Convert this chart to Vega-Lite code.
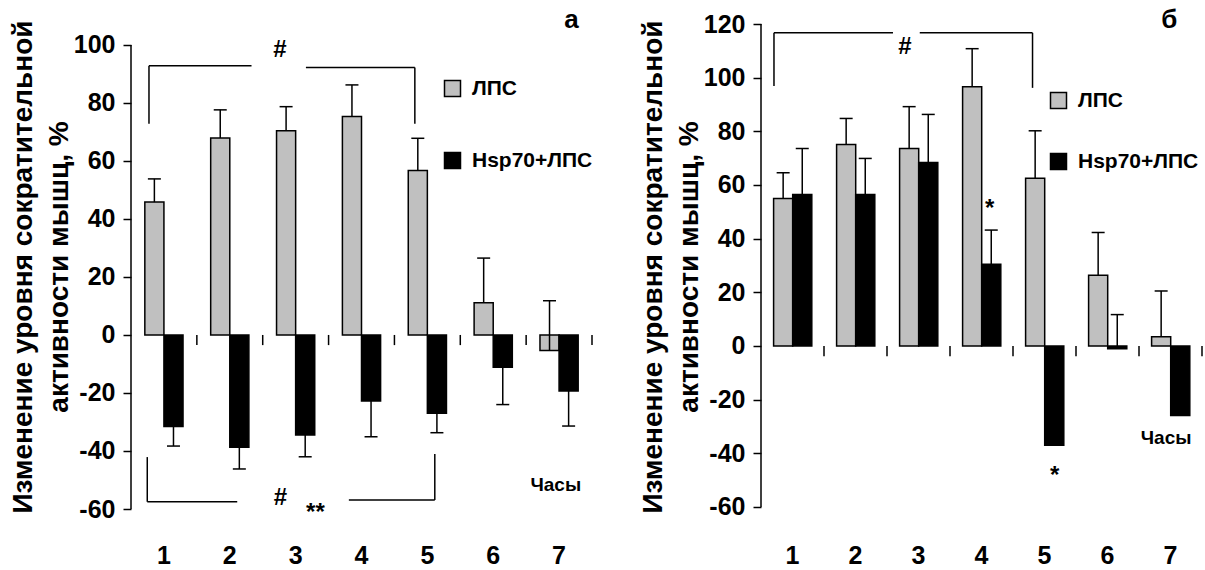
{
  "$schema": "https://vega.github.io/schema/vega-lite/v6.json",
  "padding": {"left": 9, "top": 6, "right": 0, "bottom": 0},
  "spacing": 46,
  "config": {
    "view": {"stroke": null},
    "axis": {"labelFont": "Liberation Sans, Arial, sans-serif", "labelFontWeight": "bold", "labelFontSize": 25, "labelColor": "black", "tickColor": "black", "domainColor": "black", "titleColor": "black"},
    "legend": {"labelFont": "Liberation Sans, Arial, sans-serif", "labelFontWeight": "bold", "labelFontSize": 21, "labelColor": "black", "symbolType": "square", "symbolSize": 256, "symbolStrokeColor": "black", "symbolStrokeWidth": 1.5, "labelOffset": 9, "padding": 0, "title": null},
    "text": {"font": "Liberation Sans, Arial, sans-serif", "fontWeight": "bold", "color": "black"}
  },
  "datasets": {
    "bars": [
      {"panel": "a", "hour": 1, "group": "ЛПС", "value": 45.8, "err": 53.8},
      {"panel": "a", "hour": 2, "group": "ЛПС", "value": 67.9, "err": 77.6},
      {"panel": "a", "hour": 3, "group": "ЛПС", "value": 70.4, "err": 78.7},
      {"panel": "a", "hour": 4, "group": "ЛПС", "value": 75.3, "err": 86.2},
      {"panel": "a", "hour": 5, "group": "ЛПС", "value": 56.7, "err": 67.8},
      {"panel": "a", "hour": 6, "group": "ЛПС", "value": 11.1, "err": 26.5},
      {"panel": "a", "hour": 7, "group": "ЛПС", "value": -5.4, "err": 11.8},
      {"panel": "a", "hour": 1, "group": "Hsp70+ЛПС", "value": -31.6, "err": -38.3},
      {"panel": "a", "hour": 2, "group": "Hsp70+ЛПС", "value": -38.7, "err": -46.2},
      {"panel": "a", "hour": 3, "group": "Hsp70+ЛПС", "value": -34.5, "err": -42.0},
      {"panel": "a", "hour": 4, "group": "Hsp70+ЛПС", "value": -22.8, "err": -35.1},
      {"panel": "a", "hour": 5, "group": "Hsp70+ЛПС", "value": -27.0, "err": -33.7},
      {"panel": "a", "hour": 6, "group": "Hsp70+ЛПС", "value": -11.1, "err": -24.0},
      {"panel": "a", "hour": 7, "group": "Hsp70+ЛПС", "value": -19.3, "err": -31.4},
      {"panel": "b", "hour": 1, "group": "ЛПС", "value": 55.0, "err": 64.6},
      {"panel": "b", "hour": 2, "group": "ЛПС", "value": 75.1, "err": 84.8},
      {"panel": "b", "hour": 3, "group": "ЛПС", "value": 73.6, "err": 89.2},
      {"panel": "b", "hour": 4, "group": "ЛПС", "value": 96.6, "err": 110.8},
      {"panel": "b", "hour": 5, "group": "ЛПС", "value": 62.5, "err": 80.2},
      {"panel": "b", "hour": 6, "group": "ЛПС", "value": 26.4, "err": 42.3},
      {"panel": "b", "hour": 7, "group": "ЛПС", "value": 3.4, "err": 20.5},
      {"panel": "b", "hour": 1, "group": "Hsp70+ЛПС", "value": 56.5, "err": 73.6},
      {"panel": "b", "hour": 2, "group": "Hsp70+ЛПС", "value": 56.5, "err": 69.9},
      {"panel": "b", "hour": 3, "group": "Hsp70+ЛПС", "value": 68.4, "err": 86.3},
      {"panel": "b", "hour": 4, "group": "Hsp70+ЛПС", "value": 30.5, "err": 43.2},
      {"panel": "b", "hour": 5, "group": "Hsp70+ЛПС", "value": -37.0, "err": null},
      {"panel": "b", "hour": 6, "group": "Hsp70+ЛПС", "value": -1.0, "err": 11.7},
      {"panel": "b", "hour": 7, "group": "Hsp70+ЛПС", "value": -25.9, "err": null}
    ],
    "brackets": [
      {"panel": "a", "x": 0.773, "x2": 0.773, "y": 72.8, "y2": 92.8},
      {"panel": "a", "x": 0.773, "x2": 2.33, "y": 92.8, "y2": 92.8},
      {"panel": "a", "x": 3.156, "x2": 4.81, "y": 92.2, "y2": 92.2},
      {"panel": "a", "x": 4.81, "x2": 4.81, "y": 72.8, "y2": 92.2},
      {"panel": "a", "x": 0.747, "x2": 0.747, "y": -42.1, "y2": -57.5},
      {"panel": "a", "x": 0.747, "x2": 2.113, "y": -57.5, "y2": -57.5},
      {"panel": "a", "x": 3.808, "x2": 5.113, "y": -56.9, "y2": -56.9},
      {"panel": "a", "x": 5.113, "x2": 5.113, "y": -41.0, "y2": -56.9},
      {"panel": "b", "x": 0.706, "x2": 0.706, "y": 96.9, "y2": 116.7},
      {"panel": "b", "x": 0.706, "x2": 2.595, "y": 116.7, "y2": 116.7},
      {"panel": "b", "x": 3.02, "x2": 4.81, "y": 116.7, "y2": 116.7},
      {"panel": "b", "x": 4.81, "x2": 4.81, "y": 96.2, "y2": 116.7}
    ],
    "edges": [
      {"panel": "a", "b": 1.5}, {"panel": "a", "b": 2.5}, {"panel": "a", "b": 3.5}, {"panel": "a", "b": 4.5}, {"panel": "a", "b": 5.5}, {"panel": "a", "b": 6.5}, {"panel": "a", "b": 7.5},
      {"panel": "b", "b": 1.5}, {"panel": "b", "b": 2.5}, {"panel": "b", "b": 3.5}, {"panel": "b", "b": 4.5}, {"panel": "b", "b": 5.5}, {"panel": "b", "b": 6.5}, {"panel": "b", "b": 7.5}
    ],
    "yaxis": [
      {"panel": "a", "x": 0.5, "lo": -60, "hi": 100},
      {"panel": "b", "x": 0.5, "lo": -60, "hi": 120}
    ],
    "notes": [
      {"panel": "a", "kind": "mark", "x": 2.76, "y": 98.3, "label": "#"},
      {"panel": "a", "kind": "mark", "x": 2.77, "y": -56.2, "label": "#"},
      {"panel": "a", "kind": "mark", "x": 3.30, "y": -61.5, "label": "**"},
      {"panel": "a", "kind": "hours", "x": 6.95, "y": -51.7, "label": "Часы"},
      {"panel": "a", "kind": "letter", "x": 7.19, "y": 108.6, "label": "а"},
      {"panel": "b", "kind": "mark", "x": 2.786, "y": 111.5, "label": "#"},
      {"panel": "b", "kind": "mark", "x": 4.13, "y": 51.0, "label": "*"},
      {"panel": "b", "kind": "mark", "x": 5.16, "y": -48.5, "label": "*"},
      {"panel": "b", "kind": "hours", "x": 6.93, "y": -34.4, "label": "Часы"},
      {"panel": "b", "kind": "letter", "x": 6.98, "y": 121.5, "label": "б"}
    ]
  },
  "hconcat": [
    {
      "width": 461,
      "height": 485,
      "resolve": {"scale": {"x": "independent"}},
      "layer": [
        {
          "data": {"name": "bars"},
          "transform": [{"filter": "datum.panel == 'a'"}],
          "encoding": {
            "x": {"field": "hour", "type": "ordinal", "scale": {"paddingInner": 0.42, "paddingOuter": 0.21},
                  "axis": {"title": null, "domain": false, "ticks": false, "labelAngle": 0, "labelPadding": 34}},
            "xOffset": {"field": "group", "sort": ["ЛПС", "Hsp70+ЛПС"]}
          },
          "layer": [
            {
              "mark": {"type": "bar", "stroke": "black", "strokeWidth": 1.5},
              "encoding": {
                "y": {"field": "value", "type": "quantitative", "scale": {"domain": [-60, 107.2], "nice": false, "zero": false},
                      "axis": {"values": [-60, -40, -20, 0, 20, 40, 60, 80, 100], "labelExpr": "'' + datum.value", "domain": false, "grid": false, "tickSize": 8, "tickWidth": 1.5, "labelPadding": 8,
                               "title": ["Изменение уровня сократительной", "активности мышц, %"], "titleFont": "Liberation Sans, Arial, sans-serif", "titleFontSize": 28, "titleFontWeight": "bold", "titleLineHeight": 36, "titlePadding": 0}},
                "color": {"field": "group", "type": "nominal", "scale": {"domain": ["ЛПС", "Hsp70+ЛПС"], "range": ["#c0c0c0", "#000000"]},
                          "legend": {"orient": "none", "legendX": 311, "legendY": 54, "rowPadding": 49}}
              }
            },
            {
              "transform": [{"filter": "datum.err != null"}],
              "mark": {"type": "rule", "color": "black", "strokeWidth": 1.5},
              "encoding": {"y": {"field": "value", "type": "quantitative"}, "y2": {"field": "err"}}
            },
            {
              "transform": [{"filter": "datum.err != null"}],
              "mark": {"type": "tick", "color": "black", "thickness": 1.5, "size": 13, "opacity": 1},
              "encoding": {"y": {"field": "err", "type": "quantitative"}}
            },
            {
              "mark": {"type": "rule", "color": "black", "strokeWidth": 1.5},
              "encoding": {"y": {"datum": 0}}
            }
          ]
        },
        {
          "layer": [
            {
              "data": {"name": "yaxis"},
              "transform": [{"filter": "datum.panel == 'a'"}],
              "mark": {"type": "rule", "color": "black", "strokeWidth": 1.5},
              "encoding": {
                "x": {"field": "x", "type": "quantitative", "scale": {"domain": [0.5, 7.5], "nice": false, "zero": false}, "axis": null},
                "y": {"field": "lo", "type": "quantitative"}, "y2": {"field": "hi"}
              }
            },
            {
              "data": {"name": "edges"},
              "transform": [{"filter": "datum.panel == 'a'"}],
              "mark": {"type": "rule", "color": "black", "strokeWidth": 1.5},
              "encoding": {
                "x": {"field": "b", "type": "quantitative", "axis": null},
                "y": {"datum": 0}, "y2": {"datum": -3.5}
              }
            },
            {
              "data": {"name": "brackets"},
              "transform": [{"filter": "datum.panel == 'a'"}],
              "mark": {"type": "rule", "color": "black", "strokeWidth": 1.5},
              "encoding": {
                "x": {"field": "x", "type": "quantitative", "axis": null}, "x2": {"field": "x2"},
                "y": {"field": "y", "type": "quantitative"}, "y2": {"field": "y2"}
              }
            },
            {
              "data": {"name": "notes"},
              "transform": [{"filter": "datum.panel == 'a' && datum.kind == 'mark'"}],
              "mark": {"type": "text", "fontSize": 24},
              "encoding": {"x": {"field": "x", "type": "quantitative", "axis": null}, "y": {"field": "y", "type": "quantitative"}, "text": {"field": "label"}}
            },
            {
              "data": {"name": "notes"},
              "transform": [{"filter": "datum.panel == 'a' && datum.kind == 'hours'"}],
              "mark": {"type": "text", "fontSize": 19},
              "encoding": {"x": {"field": "x", "type": "quantitative", "axis": null}, "y": {"field": "y", "type": "quantitative"}, "text": {"field": "label"}}
            },
            {
              "data": {"name": "notes"},
              "transform": [{"filter": "datum.panel == 'a' && datum.kind == 'letter'"}],
              "mark": {"type": "text", "fontSize": 26},
              "encoding": {"x": {"field": "x", "type": "quantitative", "axis": null}, "y": {"field": "y", "type": "quantitative"}, "text": {"field": "label"}}
            }
          ]
        }
      ]
    },
    {
      "width": 441,
      "height": 485,
      "resolve": {"scale": {"x": "independent"}},
      "layer": [
        {
          "data": {"name": "bars"},
          "transform": [{"filter": "datum.panel == 'b'"}],
          "encoding": {
            "x": {"field": "hour", "type": "ordinal", "scale": {"paddingInner": 0.4, "paddingOuter": 0.2},
                  "axis": {"title": null, "domain": false, "ticks": false, "labelAngle": 0, "labelPadding": 34}},
            "xOffset": {"field": "group", "sort": ["ЛПС", "Hsp70+ЛПС"]}
          },
          "layer": [
            {
              "mark": {"type": "bar", "stroke": "black", "strokeWidth": 1.5},
              "encoding": {
                "y": {"field": "value", "type": "quantitative", "scale": {"domain": [-60.75, 120], "nice": false, "zero": false},
                      "axis": {"values": [-60, -40, -20, 0, 20, 40, 60, 80, 100, 120], "labelExpr": "'' + datum.value", "domain": false, "grid": false, "tickSize": 8, "tickWidth": 1.5, "labelPadding": 8,
                               "title": ["Изменение уровня сократительной", "активности мышц, %"], "titleFont": "Liberation Sans, Arial, sans-serif", "titleFontSize": 28, "titleFontWeight": "bold", "titleLineHeight": 36, "titlePadding": 0}},
                "color": {"field": "group", "type": "nominal", "scale": {"domain": ["ЛПС", "Hsp70+ЛПС"], "range": ["#c0c0c0", "#000000"]},
                          "legend": {"orient": "none", "legendX": 287, "legendY": 66, "rowPadding": 38}}
              }
            },
            {
              "transform": [{"filter": "datum.err != null"}],
              "mark": {"type": "rule", "color": "black", "strokeWidth": 1.5},
              "encoding": {"y": {"field": "value", "type": "quantitative"}, "y2": {"field": "err"}}
            },
            {
              "transform": [{"filter": "datum.err != null"}],
              "mark": {"type": "tick", "color": "black", "thickness": 1.5, "size": 13, "opacity": 1},
              "encoding": {"y": {"field": "err", "type": "quantitative"}}
            },
            {
              "mark": {"type": "rule", "color": "black", "strokeWidth": 1.5},
              "encoding": {"y": {"datum": 0}}
            }
          ]
        },
        {
          "layer": [
            {
              "data": {"name": "yaxis"},
              "transform": [{"filter": "datum.panel == 'b'"}],
              "mark": {"type": "rule", "color": "black", "strokeWidth": 1.5},
              "encoding": {
                "x": {"field": "x", "type": "quantitative", "scale": {"domain": [0.5, 7.5], "nice": false, "zero": false}, "axis": null},
                "y": {"field": "lo", "type": "quantitative"}, "y2": {"field": "hi"}
              }
            },
            {
              "data": {"name": "edges"},
              "transform": [{"filter": "datum.panel == 'b'"}],
              "mark": {"type": "rule", "color": "black", "strokeWidth": 1.5},
              "encoding": {
                "x": {"field": "b", "type": "quantitative", "axis": null},
                "y": {"datum": 0}, "y2": {"datum": -3.8}
              }
            },
            {
              "data": {"name": "brackets"},
              "transform": [{"filter": "datum.panel == 'b'"}],
              "mark": {"type": "rule", "color": "black", "strokeWidth": 1.5},
              "encoding": {
                "x": {"field": "x", "type": "quantitative", "axis": null}, "x2": {"field": "x2"},
                "y": {"field": "y", "type": "quantitative"}, "y2": {"field": "y2"}
              }
            },
            {
              "data": {"name": "notes"},
              "transform": [{"filter": "datum.panel == 'b' && datum.kind == 'mark'"}],
              "mark": {"type": "text", "fontSize": 24},
              "encoding": {"x": {"field": "x", "type": "quantitative", "axis": null}, "y": {"field": "y", "type": "quantitative"}, "text": {"field": "label"}}
            },
            {
              "data": {"name": "notes"},
              "transform": [{"filter": "datum.panel == 'b' && datum.kind == 'hours'"}],
              "mark": {"type": "text", "fontSize": 19},
              "encoding": {"x": {"field": "x", "type": "quantitative", "axis": null}, "y": {"field": "y", "type": "quantitative"}, "text": {"field": "label"}}
            },
            {
              "data": {"name": "notes"},
              "transform": [{"filter": "datum.panel == 'b' && datum.kind == 'letter'"}],
              "mark": {"type": "text", "fontSize": 26},
              "encoding": {"x": {"field": "x", "type": "quantitative", "axis": null}, "y": {"field": "y", "type": "quantitative"}, "text": {"field": "label"}}
            }
          ]
        }
      ]
    }
  ],
  "resolve": {"scale": {"color": "independent"}, "legend": {"color": "independent"}}
}
